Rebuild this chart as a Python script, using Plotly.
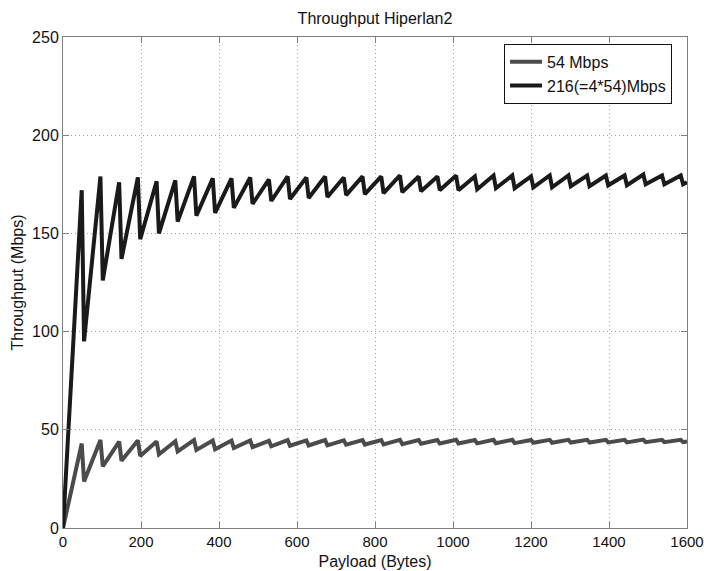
import plotly.graph_objects as go

# payload (bytes) where each sawtooth tooth peaks, and the sample just after the drop
peak_payload = list(range(48, 1600, 48))
drop_payload = [p + 6 for p in peak_payload]

# 216(=4*54) Mbps curve
fast_peaks = [172, 179, 176, 178.5, 176.5, 177, 179, 178, 178, 178.5, 177.5, 179,
              178.5, 179, 178.5, 179, 179, 179.5, 179, 179, 179.5, 179, 179.5, 179.5,
              179, 179.5, 179.5, 179.5, 179.5, 179.5, 180, 179.5, 179.5]
fast_drops = [95, 126, 137, 147, 150, 156, 159, 160.5, 163, 165, 166.5, 167.5,
              168, 168.5, 169.5, 170, 170.5, 171, 171.5, 172, 172, 172.5, 173, 173,
              173.5, 173.5, 174, 174, 174.5, 174.5, 175, 175, 175]

# 54 Mbps curve
slow_peaks = [43, 44.8, 44, 44.6, 44.1, 44.2, 44.8, 44.5, 44.5, 44.6, 44.4, 44.8,
              44.6, 44.8, 44.6, 44.8, 44.8, 44.9, 44.8, 44.8, 44.9, 44.8, 44.9, 44.9,
              44.8, 44.9, 44.9, 44.9, 44.9, 44.9, 45, 44.9, 44.9]
slow_drops = [23.7, 31.4, 34.2, 36.7, 37.5, 39, 39.7, 40.1, 40.7, 41.2, 41.6, 41.9,
              42, 42.1, 42.4, 42.5, 42.6, 42.7, 42.9, 43, 43, 43.1, 43.2, 43.2,
              43.4, 43.4, 43.5, 43.5, 43.6, 43.6, 43.7, 43.7, 43.7]

end_payload = 1600
fast_end = 176
slow_end = 44


def sawtooth(peaks, drops, end_val):
    xs, ys = [0], [0]
    for px, dx, pv, dv in zip(peak_payload, drop_payload, peaks, drops):
        xs += [px, dx]
        ys += [pv, dv]
    xs.append(end_payload)
    ys.append(end_val)
    return xs, ys


fig = go.Figure()
x1, y1 = sawtooth(slow_peaks, slow_drops, slow_end)
fig.add_trace(go.Scatter(x=x1, y=y1, mode="lines", name="54 Mbps",
                         line=dict(color="#4b4b4b", width=4)))
x2, y2 = sawtooth(fast_peaks, fast_drops, fast_end)
fig.add_trace(go.Scatter(x=x2, y=y2, mode="lines", name="216(=4*54)Mbps",
                         line=dict(color="#1a1a1a", width=4)))

axis_style = dict(showline=True, linecolor="#808080", linewidth=1, mirror="ticks",
                  ticks="inside", ticklen=6, tickcolor="#808080",
                  showgrid=True, gridcolor="#a0a0a0", griddash="1px,3px", gridwidth=1,
                  zeroline=False, automargin=False, ticklabeloverflow="allow",
                  title_font=dict(size=16, color="#111"))

fig.update_xaxes(range=[0, 1600], tickvals=list(range(0, 1601, 200)),
                 tickfont=dict(size=15, color="#111"),
                 title_text="Payload (Bytes)", title_standoff=6, **axis_style)
fig.update_yaxes(range=[0, 250], tickvals=list(range(0, 251, 50)),
                 tickfont=dict(size=16, color="#111"),
                 title_text="Throughput (Mbps)", title_standoff=4, **axis_style)

fig.update_layout(
    width=704, height=571,
    margin=dict(l=63, r=17, t=37, b=43),
    paper_bgcolor="white", plot_bgcolor="white",
    font=dict(family="Liberation Sans, Arial, sans-serif", color="#111"),
    title=dict(text="Throughput Hiperlan2", xref="paper", x=0.5, xanchor="center",
               y=0.967, yanchor="middle", font=dict(size=16)),
    legend=dict(x=0.976, y=0.986, xanchor="right", yanchor="top",
                bgcolor="white", bordercolor="#111", borderwidth=1,
                font=dict(size=16), tracegroupgap=0, itemwidth=32),
    showlegend=True,
)

# drop the default page margin so the figure fills the window
fig.write_html("out.html", config={"displayModeBar": False},
               post_script="document.body.style.margin='0';document.body.style.overflow='hidden';")
